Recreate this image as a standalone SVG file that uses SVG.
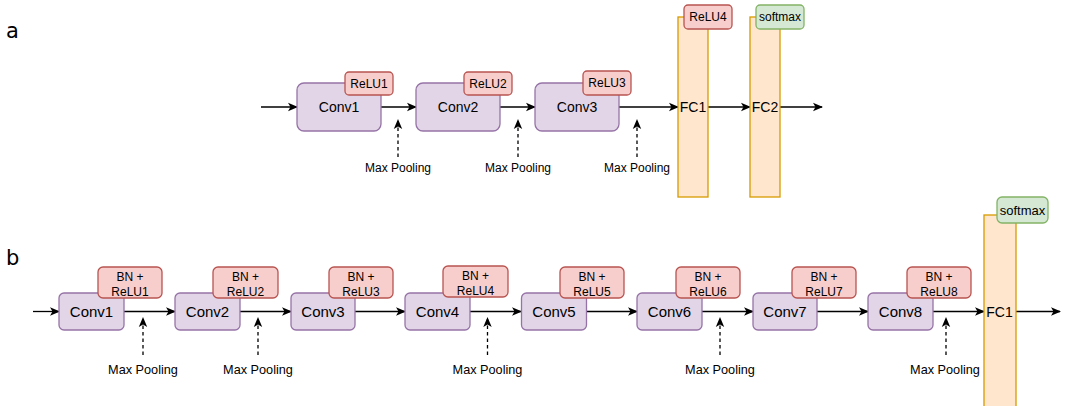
<svg xmlns="http://www.w3.org/2000/svg" width="1065" height="406" viewBox="0 0 1065 406">
  <style>
    text { font-family: "Liberation Sans", Arial, sans-serif; fill: #000; text-anchor: middle; dominant-baseline: central; }
    .panel { font-family: "DejaVu Sans", sans-serif; font-size: 21px; text-anchor: start; dominant-baseline: alphabetic; }
    .conv { fill: #e1d5e7; stroke: #9673a6; stroke-width: 1.3; }
    .act { fill: #f8cecc; stroke: #b85450; stroke-width: 1.3; }
    .fc { fill: #ffe6cc; stroke: #d79b00; stroke-width: 1.3; }
    .soft { fill: #d5e8d4; stroke: #82b366; stroke-width: 1.3; }
    .flow { stroke: #000; stroke-width: 1.3; fill: none; marker-end: url(#arr); }
    .pool { stroke: #000; stroke-width: 1.3; fill: none; stroke-dasharray: 3.5 3; marker-end: url(#arr); }
    .ta { font-size: 14px; }
    .tb { font-size: 15px; }
    .small { font-size: 12px; }
    .pa { font-size: 12px; }
    .pb { font-size: 12.7px; }
  </style>
  <defs>
    <marker id="arr" viewBox="0 0 10 10" refX="9" refY="5" markerWidth="10" markerHeight="10" markerUnits="userSpaceOnUse" orient="auto">
      <path d="M0,0.8 L10,5 L0,9.2 L2.5,5 Z" fill="#000"/>
    </marker>
  </defs>

  <text class="panel" x="6" y="38">a</text>
  <text class="panel" x="6" y="265">b</text>

  <!-- network a: connectors -->
  <g id="edges-a">
    <line class="flow" x1="261" y1="107" x2="297" y2="107"/>
    <line class="flow" x1="381" y1="107" x2="416" y2="107"/>
    <line class="flow" x1="500" y1="107" x2="535" y2="107"/>
    <line class="flow" x1="619" y1="107" x2="678" y2="107"/>
    <line class="flow" x1="708" y1="107" x2="750" y2="107"/>
    <line class="flow" x1="780" y1="107" x2="822" y2="107"/>
    <line class="pool" x1="398" y1="157" x2="398" y2="120"/>
    <line class="pool" x1="518" y1="157" x2="518" y2="120"/>
    <line class="pool" x1="637" y1="157" x2="637" y2="120"/>
  </g>

  <!-- network a: nodes -->
  <g id="a-conv1"><rect class="conv" x="297" y="83" width="84" height="48" rx="7"/><text class="ta" x="339" y="107">Conv1</text></g>
  <g id="a-relu1"><rect class="act" x="345" y="72" width="48" height="23" rx="4"/><text class="small" x="369" y="83.5">ReLU1</text></g>
  <g id="a-conv2"><rect class="conv" x="416" y="83" width="84" height="48" rx="7"/><text class="ta" x="458" y="107">Conv2</text></g>
  <g id="a-relu2"><rect class="act" x="464" y="72" width="48" height="23" rx="4"/><text class="small" x="488" y="83.5">ReLU2</text></g>
  <g id="a-conv3"><rect class="conv" x="535" y="83" width="84" height="48" rx="7"/><text class="ta" x="577" y="107">Conv3</text></g>
  <g id="a-relu3"><rect class="act" x="583" y="71" width="48" height="24" rx="4"/><text class="small" x="607" y="83">ReLU3</text></g>
  <g id="a-fc1"><rect class="fc" x="678" y="17" width="30" height="180"/><text class="ta" x="693" y="107">FC1</text></g>
  <g id="a-relu4"><rect class="act" x="684" y="5" width="48" height="24" rx="4"/><text class="small" x="708" y="17">ReLU4</text></g>
  <g id="a-fc2"><rect class="fc" x="750" y="17" width="30" height="180"/><text class="ta" x="765" y="107">FC2</text></g>
  <g id="a-softmax"><rect class="soft" x="756" y="5" width="48" height="24" rx="4"/><text class="small" x="780" y="17">softmax</text></g>
  <g id="a-pool-labels">
    <text class="pa" x="398" y="168">Max Pooling</text>
    <text class="pa" x="518" y="168">Max Pooling</text>
    <text class="pa" x="637" y="168">Max Pooling</text>
  </g>

  <!-- network b: connectors -->
  <g id="edges-b">
    <line class="flow" x1="33" y1="311.5" x2="59" y2="311.5"/>
    <line class="flow" x1="124" y1="311.5" x2="175" y2="311.5"/>
    <line class="flow" x1="240" y1="311.5" x2="291" y2="311.5"/>
    <line class="flow" x1="355" y1="311.5" x2="405" y2="311.5"/>
    <line class="flow" x1="470" y1="311.5" x2="521" y2="311.5"/>
    <line class="flow" x1="586" y1="311.5" x2="637" y2="311.5"/>
    <line class="flow" x1="702" y1="311.5" x2="753" y2="311.5"/>
    <line class="flow" x1="817" y1="311.5" x2="868" y2="311.5"/>
    <line class="flow" x1="933" y1="311.5" x2="984" y2="311.5"/>
    <line class="flow" x1="1016" y1="311.5" x2="1060" y2="311.5"/>
    <line class="pool" x1="143" y1="355" x2="143" y2="318"/>
    <line class="pool" x1="258" y1="355" x2="258" y2="318"/>
    <line class="pool" x1="487.5" y1="355" x2="487.5" y2="318"/>
    <line class="pool" x1="720" y1="355" x2="720" y2="318"/>
    <line class="pool" x1="946" y1="355" x2="946" y2="318"/>
  </g>

  <!-- network b: nodes -->
  <g id="b-conv1"><rect class="conv" x="59" y="293" width="65" height="37" rx="5"/><text class="tb" x="91.5" y="311.5">Conv1</text></g>
  <g id="b-bn1"><rect class="act" x="98" y="267" width="64" height="31" rx="5"/><text class="small" x="130" y="276.5">BN +</text><text class="small" x="130" y="292">ReLU1</text></g>
  <g id="b-conv2"><rect class="conv" x="175" y="293" width="65" height="37" rx="5"/><text class="tb" x="207.5" y="311.5">Conv2</text></g>
  <g id="b-bn2"><rect class="act" x="213" y="267" width="65" height="31" rx="5"/><text class="small" x="245.5" y="276.5">BN +</text><text class="small" x="245.5" y="292">ReLU2</text></g>
  <g id="b-conv3"><rect class="conv" x="291" y="293" width="64" height="37" rx="5"/><text class="tb" x="323" y="311.5">Conv3</text></g>
  <g id="b-bn3"><rect class="act" x="329" y="267" width="64" height="31" rx="5"/><text class="small" x="361" y="276.5">BN +</text><text class="small" x="361" y="292">ReLU3</text></g>
  <g id="b-conv4"><rect class="conv" x="405" y="293" width="65" height="37" rx="5"/><text class="tb" x="437.5" y="311.5">Conv4</text></g>
  <g id="b-bn4"><rect class="act" x="443" y="266" width="65" height="31" rx="5"/><text class="small" x="475.5" y="275.5">BN +</text><text class="small" x="475.5" y="291">ReLU4</text></g>
  <g id="b-conv5"><rect class="conv" x="521.5" y="293" width="65" height="37" rx="5"/><text class="tb" x="554" y="311.5">Conv5</text></g>
  <g id="b-bn5"><rect class="act" x="560" y="267" width="64" height="31" rx="5"/><text class="small" x="592" y="276.5">BN +</text><text class="small" x="592" y="292">ReLU5</text></g>
  <g id="b-conv6"><rect class="conv" x="637" y="293" width="65" height="37" rx="5"/><text class="tb" x="669.5" y="311.5">Conv6</text></g>
  <g id="b-bn6"><rect class="act" x="676" y="267" width="64" height="31" rx="5"/><text class="small" x="708" y="276.5">BN +</text><text class="small" x="708" y="292">ReLU6</text></g>
  <g id="b-conv7"><rect class="conv" x="753" y="293" width="64" height="37" rx="5"/><text class="tb" x="785" y="311.5">Conv7</text></g>
  <g id="b-bn7"><rect class="act" x="792" y="267" width="64" height="31" rx="5"/><text class="small" x="824" y="276.5">BN +</text><text class="small" x="824" y="292">ReLU7</text></g>
  <g id="b-conv8"><rect class="conv" x="868" y="293" width="65" height="37" rx="5"/><text class="tb" x="900.5" y="311.5">Conv8</text></g>
  <g id="b-bn8"><rect class="act" x="907" y="267" width="64" height="31" rx="5"/><text class="small" x="939" y="276.5">BN +</text><text class="small" x="939" y="292">ReLU8</text></g>
  <g id="b-fc1"><rect class="fc" x="984" y="215" width="32" height="200"/><text class="ta" x="999.5" y="311.5">FC1</text></g>
  <g id="b-softmax"><rect class="soft" x="997" y="197" width="51" height="26" rx="5"/><text x="1022.5" y="210" style="font-size:13px">softmax</text></g>
  <g id="b-pool-labels">
    <text class="pb" x="143" y="369.5">Max Pooling</text>
    <text class="pb" x="258" y="369.5">Max Pooling</text>
    <text class="pb" x="487.5" y="369.5">Max Pooling</text>
    <text class="pb" x="720" y="369.5">Max Pooling</text>
    <text class="pb" x="945" y="369.5">Max Pooling</text>
  </g>
</svg>
